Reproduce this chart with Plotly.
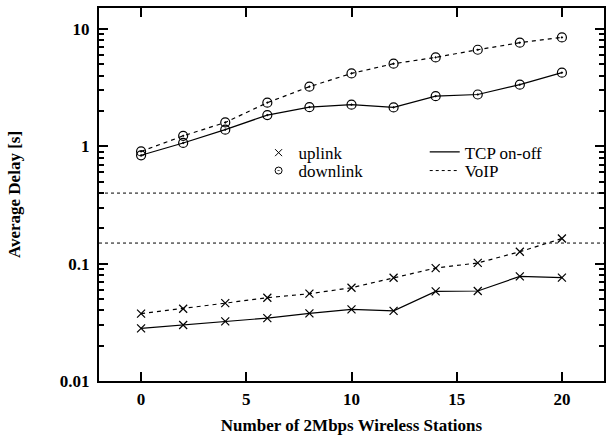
import plotly.graph_objects as go

stations = [0, 2, 4, 6, 8, 10, 12, 14, 16, 18, 20]
tcp_uplink = [0.0281, 0.0300, 0.0322, 0.0344, 0.0377, 0.0408, 0.0396, 0.0580, 0.0585, 0.0780, 0.0762]
tcp_downlink = [0.84, 1.07, 1.39, 1.85, 2.16, 2.27, 2.15, 2.68, 2.77, 3.36, 4.25]
voip_uplink = [0.0375, 0.0413, 0.0461, 0.0513, 0.0555, 0.0624, 0.0759, 0.0918, 0.1015, 0.1265, 0.1640]
voip_downlink = [0.906, 1.23, 1.60, 2.36, 3.23, 4.19, 5.07, 5.74, 6.67, 7.66, 8.50]
threshold_lines = [0.4, 0.15]
x_ticks = [0, 5, 10, 15, 20]
y_ticks = [0.01, 0.1, 1, 10]
y_ticktext = ["0.01", "0.1", "1", "10"]

FONT = "Times New Roman, Liberation Serif, serif"
BLACK = "#000000"
DASH = "4px,4px"

fig = go.Figure()

series = [
    (tcp_uplink, "solid", "x-thin-open", 8),
    (tcp_downlink, "solid", "circle-open-dot", 9),
    (voip_uplink, DASH, "x-thin-open", 8),
    (voip_downlink, DASH, "circle-open-dot", 9),
]
for ys, dash, sym, sz in series:
    fig.add_trace(go.Scatter(
        x=stations, y=ys, mode="lines+markers",
        line=dict(color=BLACK, width=1.2, dash=dash),
        marker=dict(symbol=sym, size=sz, color=BLACK, line=dict(color=BLACK, width=1.2)),
        showlegend=False,
    ))

# legend entries (four single-entry legends to mimic the 2x2 key)
fig.add_trace(go.Scatter(x=[None], y=[None], mode="markers", name="uplink",
                         marker=dict(symbol="x-thin-open", size=7, color=BLACK,
                                     line=dict(color=BLACK, width=1)),
                         legend="legend"))
fig.add_trace(go.Scatter(x=[None], y=[None], mode="markers", name="downlink",
                         marker=dict(symbol="circle-open-dot", size=7, color=BLACK,
                                     line=dict(color=BLACK, width=1)),
                         legend="legend2"))
fig.add_trace(go.Scatter(x=[None], y=[None], mode="lines", name="TCP on-off",
                         line=dict(color=BLACK, width=1.2),
                         legend="legend3"))
fig.add_trace(go.Scatter(x=[None], y=[None], mode="lines", name="VoIP",
                         line=dict(color=BLACK, width=1, dash="3px,3px"),
                         legend="legend4"))

for yv in threshold_lines:
    fig.add_shape(type="line", xref="paper", x0=0, x1=1, yref="y", y0=yv, y1=yv,
                  line=dict(color=BLACK, width=1, dash="dot"), layer="below")

legend_common = dict(font=dict(family=FONT, size=17, color=BLACK), bgcolor="rgba(0,0,0,0)",
                     borderwidth=0, xanchor="left", yanchor="middle", orientation="v",
                     itemclick=False, itemdoubleclick=False)

fig.update_layout(
    width=606, height=438,
    margin=dict(l=99, r=0, t=8, b=57),
    paper_bgcolor="white", plot_bgcolor="white",
    font=dict(family=FONT, color=BLACK),
    legend=dict(x=0.316, y=0.611, **legend_common),
    legend2=dict(x=0.316, y=0.563, **legend_common),
    legend3=dict(x=0.645, y=0.613, **legend_common),
    legend4=dict(x=0.645, y=0.563, **legend_common),
    xaxis=dict(
        range=[-2, 22], tickvals=x_ticks, ticks="inside", ticklen=9, tickwidth=1.5,
        tickcolor=BLACK, showline=True, linewidth=2, linecolor=BLACK, mirror="ticks",
        showgrid=False, zeroline=False,
        tickfont=dict(family=FONT, size=17, color=BLACK, weight="bold"),
        ticklabelstandoff=2,
        title=dict(text="Number of 2Mbps Wireless Stations", standoff=11,
                   font=dict(family=FONT, size=17, color=BLACK, weight="bold")),
    ),
    yaxis=dict(
        type="log", range=[-2, 1.18], tickvals=y_ticks, ticktext=y_ticktext,
        ticks="inside", ticklen=9, tickwidth=1.5, tickcolor=BLACK,
        showline=True, linewidth=2, linecolor=BLACK, mirror="ticks",
        showgrid=False, zeroline=False,
        minor=dict(ticks="inside", ticklen=5, tickwidth=1.5, tickcolor=BLACK,
                   tickvals=[m * d for d in (0.01, 0.1, 1, 10) for m in range(2, 10)],
                   showgrid=False),
        tickfont=dict(family=FONT, size=17, color=BLACK, weight="bold"),
        ticklabelstandoff=4,
        title=dict(text="Average Delay [s]", standoff=35,
                   font=dict(family=FONT, size=17, color=BLACK, weight="bold")),
    ),
)

fig.write_html("out.html")
